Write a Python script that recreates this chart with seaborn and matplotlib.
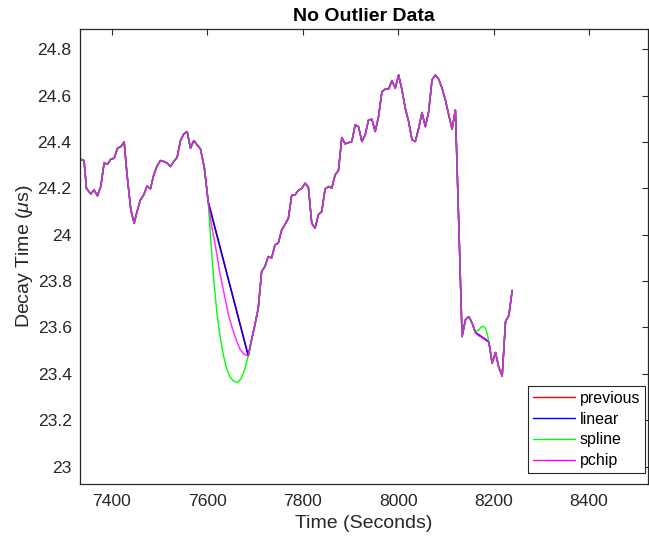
import numpy as np
import pandas as pd
import matplotlib
matplotlib.use("Agg")
import matplotlib.pyplot as plt
from matplotlib.lines import Line2D
import seaborn as sns

# ---------------- data ----------------
# measured samples before the first gap
time_a = [7334, 7342, 7347, 7356, 7363, 7370, 7377, 7384, 7391, 7398, 7405, 7412,
          7419, 7426, 7432, 7440, 7447, 7453, 7460, 7467, 7474, 7481, 7488, 7495,
          7502, 7509, 7516, 7523, 7530, 7537, 7544, 7551, 7558, 7565, 7572, 7579,
          7586, 7594, 7602]
decay_a = [24.326, 24.32, 24.20, 24.176, 24.193, 24.168, 24.208, 24.309, 24.304, 24.326,
           24.33, 24.373, 24.38, 24.40, 24.26, 24.107, 24.05, 24.10, 24.15, 24.172,
           24.21, 24.198, 24.258, 24.297, 24.32, 24.316, 24.309, 24.294, 24.316, 24.334,
           24.406, 24.435, 24.445, 24.373, 24.406, 24.387, 24.369, 24.29, 24.143]

# measured samples between the two gaps
time_b = [7686, 7693, 7700, 7707, 7714, 7721, 7728, 7735, 7742, 7749, 7756, 7763,
          7770, 7777, 7784, 7791, 7798, 7805, 7812, 7819, 7826, 7833, 7840, 7847,
          7854, 7861, 7868, 7875, 7882, 7889, 7896, 7903, 7910, 7917, 7924, 7931,
          7938, 7945, 7952, 7959, 7966, 7973, 7980, 7987, 7994, 8001, 8008, 8015,
          8022, 8029, 8036, 8043, 8050, 8057, 8064, 8071, 8078, 8085, 8092, 8099,
          8106, 8113, 8120, 8127, 8134, 8141, 8148, 8155, 8162]
decay_b = [23.478, 23.547, 23.612, 23.684, 23.841, 23.863, 23.906, 23.90, 23.956, 23.965,
           24.02, 24.045, 24.07, 24.17, 24.172, 24.191, 24.20, 24.222, 24.205, 24.05,
           24.028, 24.086, 24.10, 24.197, 24.208, 24.201, 24.258, 24.277, 24.419, 24.392,
           24.397, 24.402, 24.474, 24.466, 24.402, 24.431, 24.495, 24.498, 24.445, 24.51,
           24.617, 24.628, 24.628, 24.665, 24.632, 24.689, 24.625, 24.545, 24.488, 24.41,
           24.402, 24.459, 24.527, 24.466, 24.531, 24.668, 24.689, 24.671, 24.632, 24.581,
           24.517, 24.455, 24.538, 24.05, 23.561, 23.633, 23.647, 23.619, 23.578]

# measured samples after the second gap
time_c = [8190, 8197, 8204, 8211, 8218, 8225, 8232, 8239]
decay_c = [23.538, 23.447, 23.492, 23.428, 23.39, 23.626, 23.652, 23.76]

# filled values inside the gaps, as drawn
gap1_spline_time = [7608, 7614, 7620, 7627, 7634, 7641, 7648, 7656, 7664, 7671, 7678]
gap1_spline = [23.96, 23.80, 23.67, 23.56, 23.48, 23.42, 23.385, 23.368, 23.363, 23.38, 23.415]
gap1_pchip_time = [7610, 7619, 7627, 7636, 7644, 7652, 7661, 7669, 7677]
gap1_pchip = [24.03, 23.93, 23.83, 23.74, 23.66, 23.60, 23.545, 23.505, 23.485]
gap2_spline_time = [8166, 8170, 8174, 8178, 8182, 8185, 8188]
gap2_spline = [23.586, 23.592, 23.602, 23.605, 23.600, 23.585, 23.56]
gap2_pchip_time = [8169, 8176, 8183]
gap2_pchip = [23.564, 23.558, 23.551]

methods = ["previous", "linear", "spline", "pchip"]
method_colors = ["#ff0000", "#0000ff", "#00ff00", "#ff00ff"]

x_ticks = [7400, 7600, 7800, 8000, 8200, 8400]
y_ticks = [23, 23.2, 23.4, 23.6, 23.8, 24, 24.2, 24.4, 24.6, 24.8]


def build(gap1_t, gap1_v, gap2_t, gap2_v):
    t = list(time_a) + list(gap1_t) + list(time_b) + list(gap2_t) + list(time_c)
    v = list(decay_a) + list(gap1_v) + list(decay_b) + list(gap2_v) + list(decay_c)
    return pd.DataFrame({"t": t, "v": v})


series = {
    "previous": build([], [], [], []),
    "linear": build([], [], [], []),
    "spline": build(gap1_spline_time, gap1_spline, gap2_spline_time, gap2_spline),
    "pchip": build(gap1_pchip_time, gap1_pchip, gap2_pchip_time, gap2_pchip),
}

# ---------------- style ----------------
sns.set_style("white")
plt.rcParams["font.family"] = ["Liberation Sans", "DejaVu Sans"]
plt.rcParams["mathtext.fontset"] = "custom"
plt.rcParams["mathtext.rm"] = "Liberation Sans"
plt.rcParams["mathtext.it"] = "Liberation Sans:italic"

W, H = 649, 541
fig = plt.figure(figsize=(W / 100, H / 100), dpi=100)
left, right, top, bottom = 80, 648, 29.3, 484
ax = fig.add_axes([left / W, 1 - bottom / H, (right - left) / W, (bottom - top) / H])

alphas = {"previous": 1.0, "linear": 1.0, "spline": 1.0, "pchip": 0.8}
widths = {"previous": 1.1, "linear": 1.1, "spline": 1.0, "pchip": 1.1}
for m, c in zip(methods, method_colors):
    sns.lineplot(data=series[m], x="t", y="v", ax=ax, color=c, lw=widths[m],
                 alpha=alphas[m], sort=False, estimator=None, legend=False)

ax.set_xlim(7333.5, 8523.5)
ax.set_ylim(22.925, 24.886)
ax.set_xticks(x_ticks)
ax.set_xticklabels([str(x) for x in x_ticks])
ax.set_yticks(y_ticks)
ax.set_yticklabels([f"{y:g}" for y in y_ticks])

gray = "#262626"
for s in ax.spines.values():
    s.set_visible(True)
    s.set_color(gray)
    s.set_linewidth(0.9)
ax.tick_params(axis="both", direction="in", length=4.3, width=0.8, colors=gray,
               labelsize=12.6, top=True, right=True)
ax.tick_params(axis="x", pad=7.5)
ax.tick_params(axis="y", pad=6)

ax.set_xlabel("Time (Seconds)", fontsize=14, color=gray, labelpad=4)
ax.set_ylabel("Decay Time ($\\mu$s)", fontsize=14, color=gray, labelpad=1.5)
ax.set_title("No Outlier Data", fontsize=14, fontweight="bold", color="black", pad=6)

handles = [Line2D([0], [0], color=c, lw=1.0) for c in method_colors]
leg = ax.legend(handles, methods, loc="lower right",
                bbox_to_anchor=(645 / W, 1 - 473 / H), bbox_transform=fig.transFigure,
                borderaxespad=0, fancybox=False, framealpha=1, edgecolor=gray,
                fontsize=11.5, handlelength=2.65, handletextpad=0.3,
                labelspacing=0.36, borderpad=0.3)
leg.get_frame().set_linewidth(0.8)
for txt in leg.get_texts():
    txt.set_color("black")

fig.savefig("out.png", dpi=100)
